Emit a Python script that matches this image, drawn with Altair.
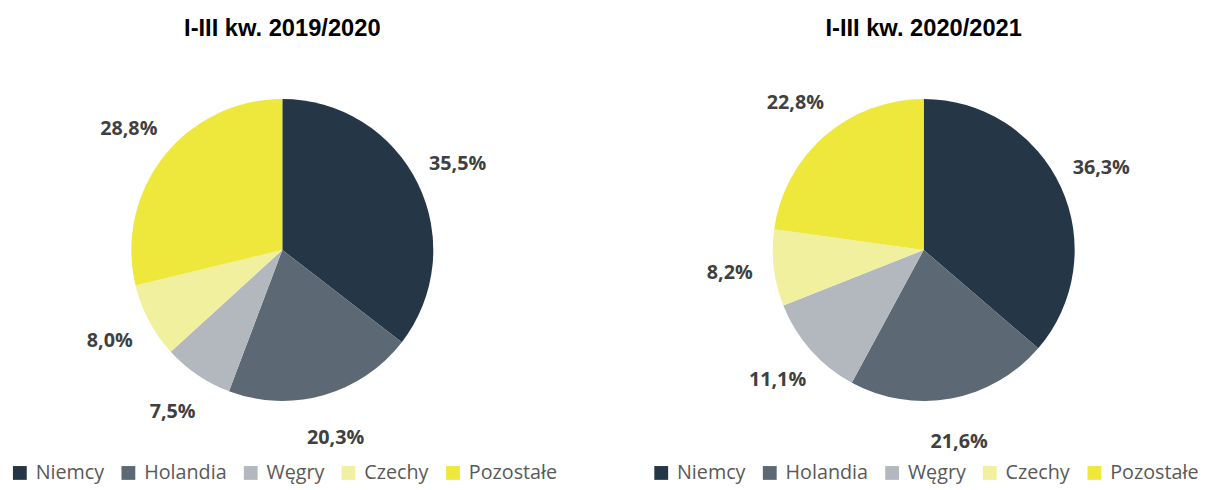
import altair as alt
import pandas as pd

categories = ["Niemcy", "Holandia", "Węgry", "Czechy", "Pozostałe"]
values_a = [35.5, 20.3, 7.5, 8.0, 28.8]
values_b = [36.3, 21.6, 11.1, 8.2, 22.8]
titles = ["I-III kw. 2019/2020", "I-III kw. 2020/2021"]
colors = ["#253647", "#5c6874", "#b3b8bf", "#f0f09e", "#efe83c"]


def make_df(vals):
    return pd.DataFrame({
        "kraj": categories,
        "udzial": vals,
        "idx": list(range(len(categories))),
        "label": [f"{v:.1f}".replace(".", ",") + "%" for v in vals],
    })


def pie(vals, title):
    df = make_df(vals)
    base = alt.Chart(df).encode(
        theta=alt.Theta("udzial:Q", stack=True),
        order=alt.Order("idx:Q"),
    )
    color = alt.Color(
        "kraj:N",
        scale=alt.Scale(domain=categories, range=colors),
        sort=categories,
        legend=alt.Legend(
            title=None, orient="none", direction="horizontal",
            legendX=-1, legendY=416,
            symbolType="square", symbolSize=196, symbolStrokeWidth=0,
            labelFont="Open Sans", labelFontSize=20, labelColor="#595959",
            columnPadding=14, labelOffset=6, padding=0,
        ),
    )
    arcs = base.mark_arc(outerRadius=153).encode(color=color)
    text = base.mark_text(
        radius=198, font="Open Sans", fontSize=20, fontWeight="bold", color="#404040"
    ).encode(text="label:N")
    return alt.layer(arcs, text).properties(
        width=550, height=400,
        title=alt.TitleParams(
            title, anchor="middle", font="Liberation Sans", fontSize=24,
            fontWeight="bold", color="#000000", offset=12,
        ),
    )


chart = alt.hconcat(
    pie(values_a, titles[0]), pie(values_b, titles[1]), spacing=95
).resolve_scale(
    color="independent", theta="independent"
).properties(
    padding={"left": 2, "top": 6, "right": 0, "bottom": -2}
).configure_view(stroke=None)

chart.save("out.html", embed_options={"renderer": "svg", "actions": False})
